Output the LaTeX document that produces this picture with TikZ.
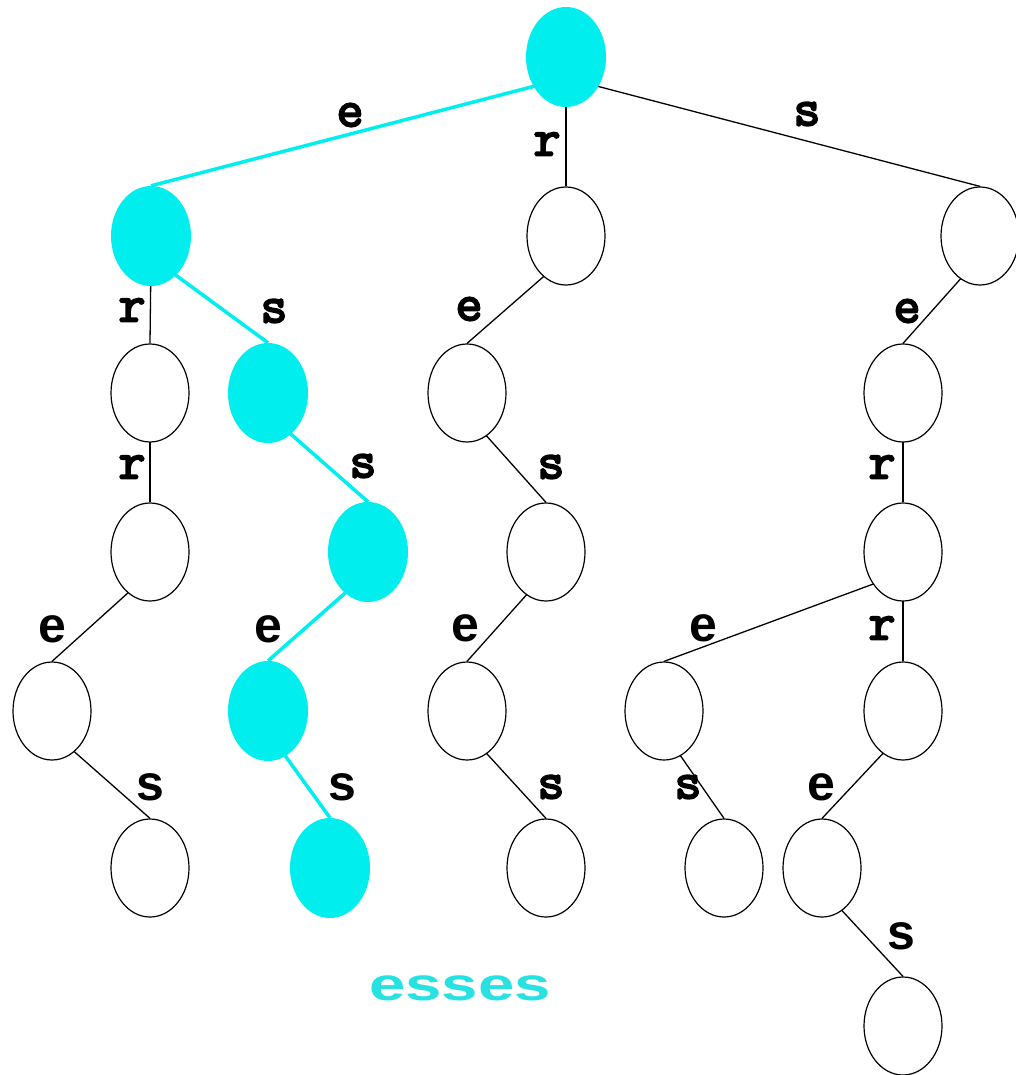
\documentclass[tikz,border=0pt]{standalone}
\usepackage{fontspec}
\usetikzlibrary{shapes.geometric,backgrounds}
\newfontfamily\labsans{Liberation Sans}
\newfontfamily\labmono{Latin Modern Mono}[FakeBold=4]
\definecolor{hl}{RGB}{0,238,238}
\definecolor{hltext}{RGB}{40,225,225}
\begin{document}
\begin{tikzpicture}[x=1pt,y=-1pt,
  tn/.style={ellipse, draw=black, line width=1.2pt, fill=white, minimum width=78pt, minimum height=98pt, inner sep=0pt},
  hn/.style={ellipse, fill=hl, draw=none, minimum width=80pt, minimum height=100pt, inner sep=0pt},
  ed/.style={draw=black, line width=1.3pt},
  he/.style={draw=hl, line width=3.5pt},
  lm/.style={font=\labmono\fontsize{52}{52}\selectfont, inner sep=0pt},
  ls/.style={font=\labsans\bfseries\fontsize{50}{50}\selectfont, inner sep=0pt}]
\useasboundingbox (0,0) rectangle (1015,1075);

% nodes
\node[hn] (R) at (566,57) {};
\node[hn] (A) at (151,236) {};
\node[tn] (B) at (566,236) {};
\node[tn] (C) at (980,236) {};
\node[tn] (A1) at (150,393) {};
\node[hn] (A2) at (268,393) {};
\node[tn] (B1) at (467,393) {};
\node[tn] (C1) at (903,393) {};
\node[tn] (A11) at (150,552) {};
\node[hn] (A21) at (368,552) {};
\node[tn] (B11) at (546,552) {};
\node[tn] (C11) at (903,552) {};
\node[tn] (A111) at (52,711) {};
\node[hn] (A211) at (268,711) {};
\node[tn] (B111) at (467,711) {};
\node[tn] (C111) at (664,711) {};
\node[tn] (C112) at (903,711) {};
\node[tn] (A1111) at (150,868) {};
\node[hn] (A2111) at (330,868) {};
\node[tn] (B1111) at (546,868) {};
\node[tn] (C1111) at (724,868) {};
\node[tn] (C1121) at (822,868) {};
\node[tn] (C11211) at (903,1026) {};

% edges (start a little below each parent's centre, hidden by the parent)
\begin{scope}[on background layer]
\fill[white] (0,0) rectangle (1015,1075);
\tikzset{low/.style={yshift=-21pt}}
\draw[he] ([low]R.center) -- (A.north);
\draw[ed] ([low]R.center) -- (B.north);
\draw[ed] ([low]R.center) -- (C.north);
\draw[ed] ([low]A.center) -- (A1.north);
\draw[he] ([low]A.center) -- (A2.north);
\draw[ed] ([low]B.center) -- (B1.north);
\draw[ed] ([low]C.center) -- (C1.north);
\draw[ed] ([low]A1.center) -- (A11.north);
\draw[he] ([low]A2.center) -- (A21.north);
\draw[ed] ([low]B1.center) -- (B11.north);
\draw[ed] ([low]C1.center) -- (C11.north);
\draw[ed] ([low]A11.center) -- (A111.north);
\draw[he] ([low]A21.center) -- (A211.north);
\draw[ed] ([low]B11.center) -- (B111.north);
\draw[ed] ([low]C11.center) -- (C111.north);
\draw[ed] ([low]C11.center) -- (C112.north);
\draw[ed] ([low]A111.center) -- (A1111.north);
\draw[he] ([low]A211.center) -- (A2111.north);
\draw[ed] ([low]B111.center) -- (B1111.north);
\draw[ed] ([low]C111.center) -- (C1111.north);
\draw[ed] ([low]C112.center) -- (C1121.north);
\draw[ed] ([low]C1121.center) -- (C11211.north);
\end{scope}

% edge labels
\node[lm] (l1) at (350,115) {e};
\node[lm] (l2) at (547,144) {r};
\node[lm] (l3) at (807,114) {s};
\node[lm] (l4) at (132,310) {r};
\node[lm] (l5) at (274,311) {s};
\node[lm] (l6) at (469,309) {e};
\node[lm] (l7) at (907,311) {e};
\node[lm] (l8) at (132,467) {r};
\node[lm] (l9) at (363,466) {s};
\node[lm] (l10) at (551,467) {s};
\node[lm] (l11) at (882,467) {r};
\node[ls] (l12) at (52,629) {e};
\node[ls] (l13) at (268,629) {e};
\node[ls] (l14) at (465,628) {e};
\node[ls] (l15) at (703,628) {e};
\node[lm] (l16) at (882,628) {r};
\node[ls] (l17) at (150,787) {s};
\node[ls] (l18) at (342,787) {s};
\node[lm] (l19) at (551,787) {s};
\node[lm] (l20) at (688,787) {s};
\node[ls] (l21) at (821,787) {e};
\node[ls] (l22) at (901,936) {s};

% caption
\node[inner sep=0pt, text=hltext, font=\labsans\bfseries\fontsize{46}{46}\selectfont, xscale=1.42] (cap) at (460,988) {esses};
\end{tikzpicture}
\end{document}
